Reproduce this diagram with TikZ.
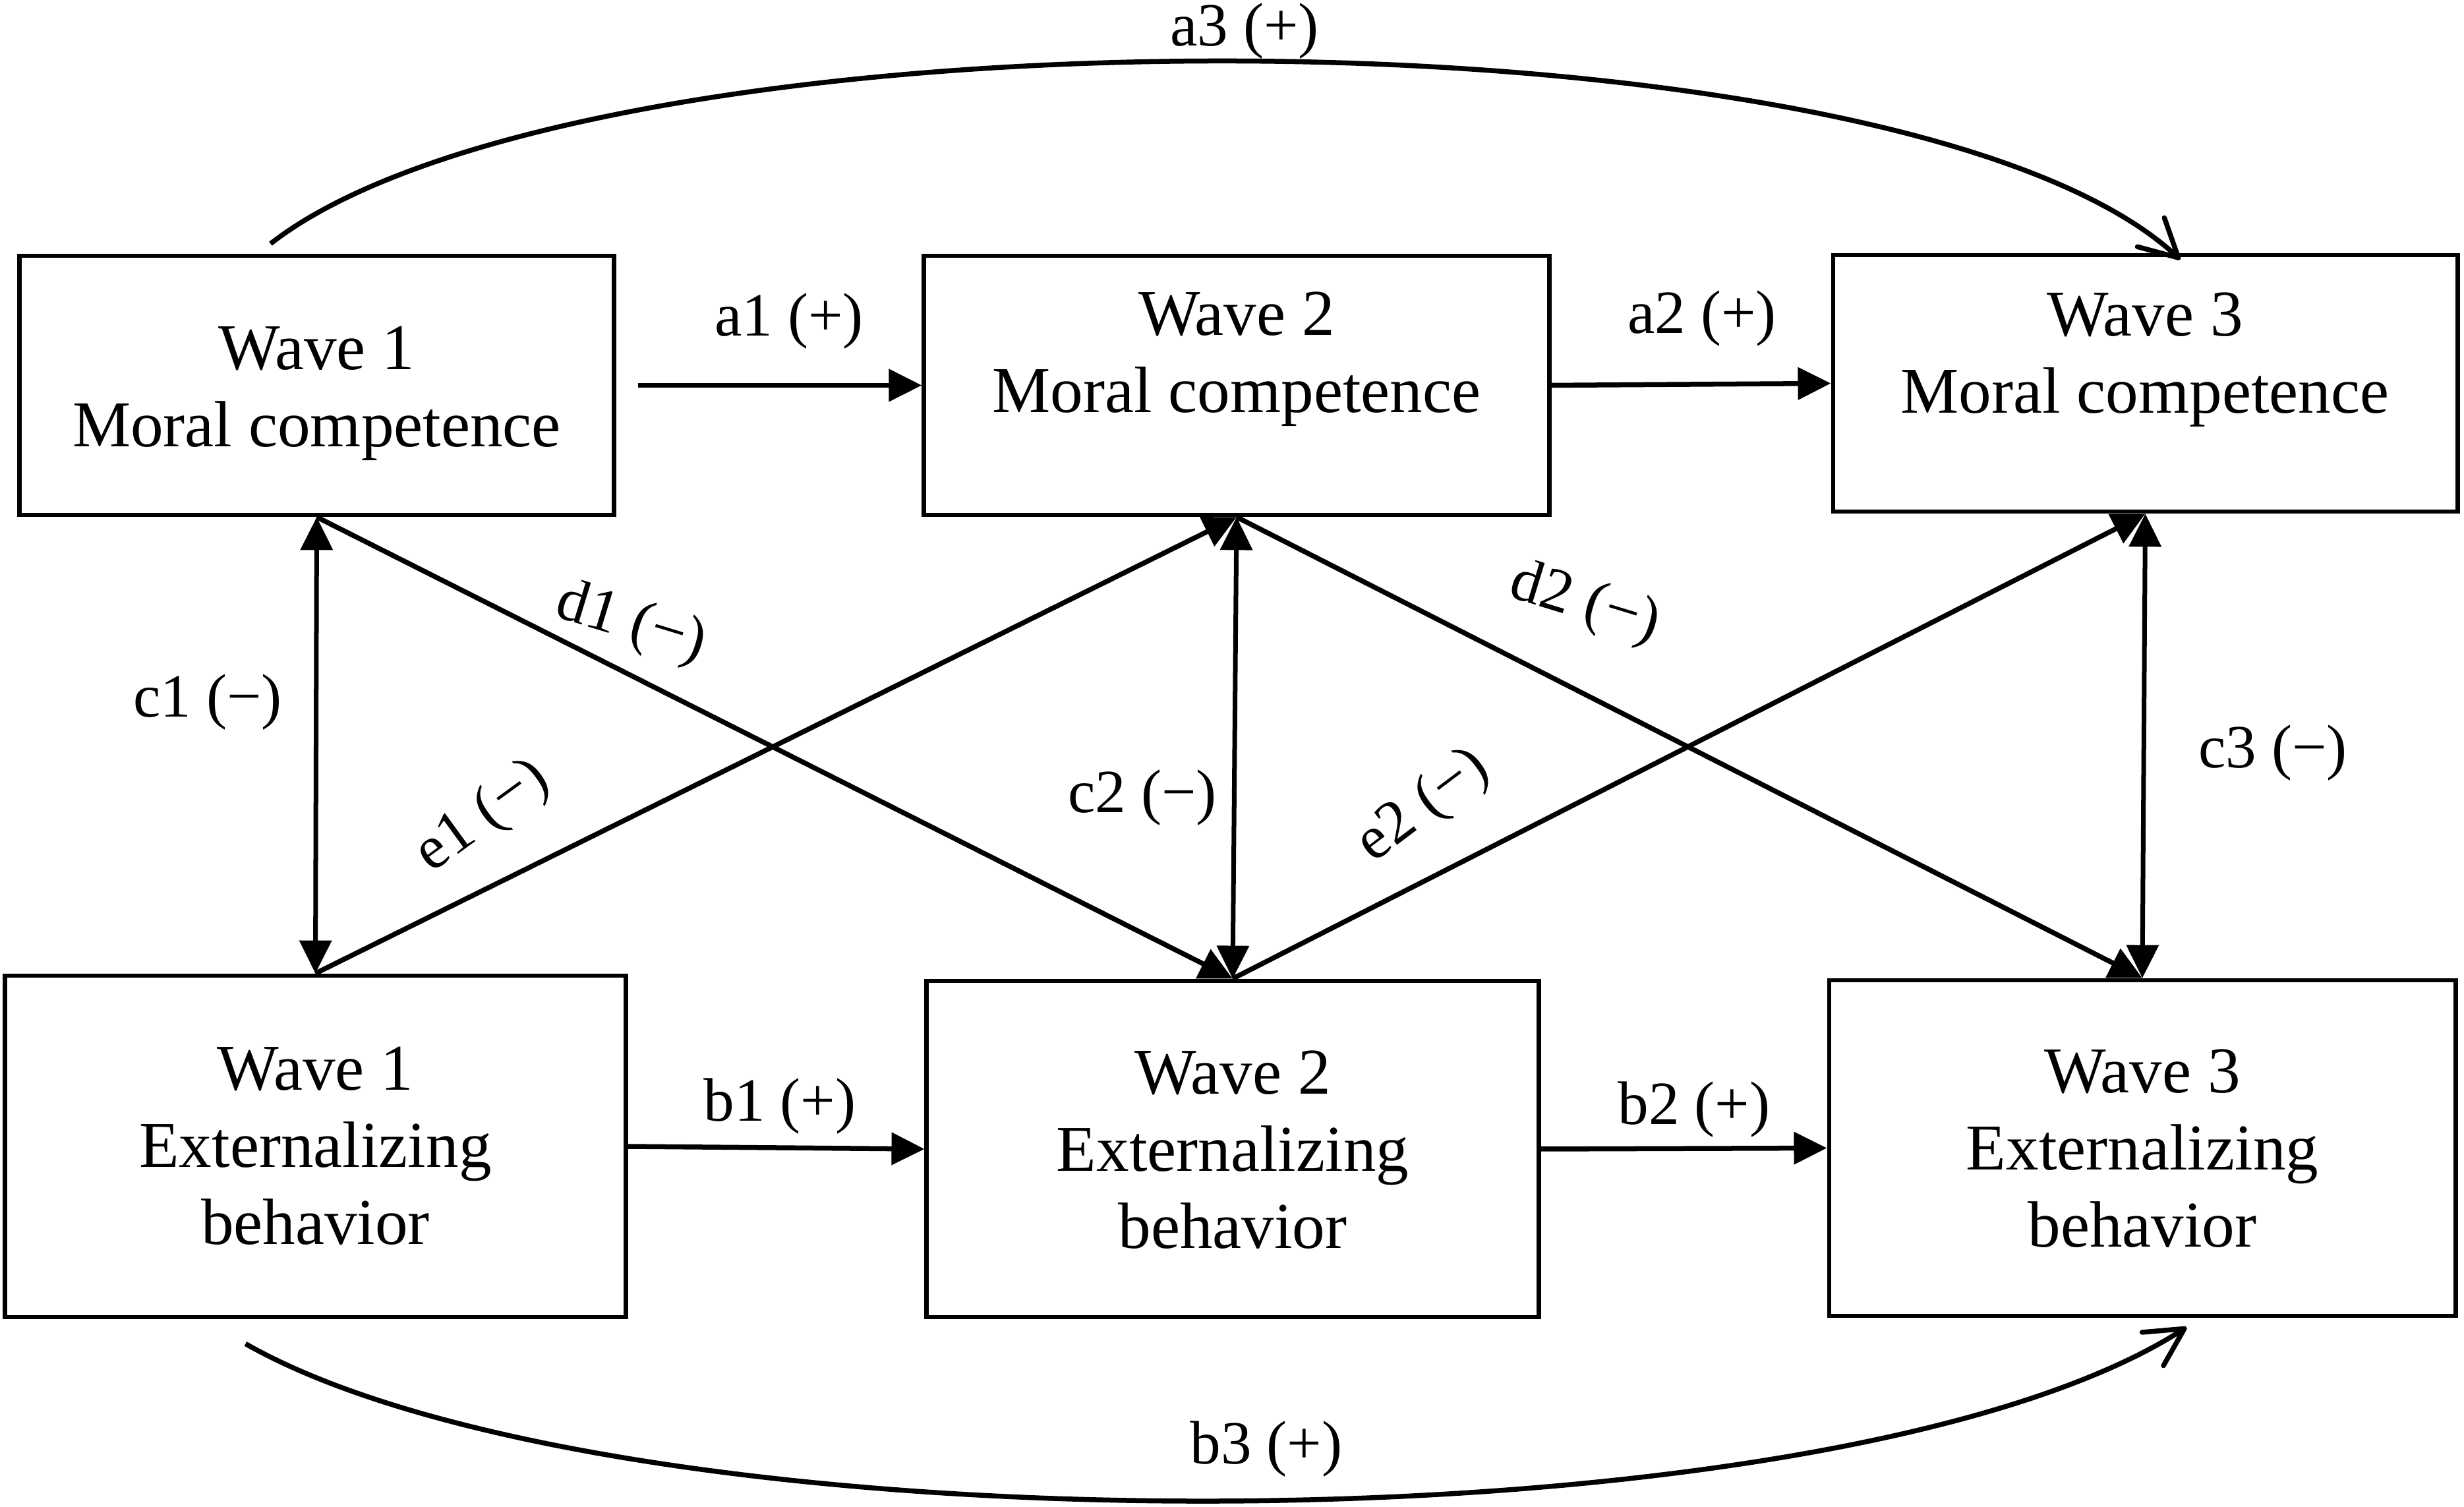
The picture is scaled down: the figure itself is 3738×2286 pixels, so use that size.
\documentclass[tikz,border=0pt]{standalone}
\usepackage{fontspec}
\setmainfont{Liberation Serif}
\usetikzlibrary{arrows.meta,calc}
\begin{document}
\begin{tikzpicture}[x=0.01cm,y=-0.01cm,
  box/.style={draw, line width=0.065cm, inner sep=0pt, rectangle},
  boxtext/.style={align=center, inner sep=0pt, font=\fontsize{28.2pt}{33.3pt}\selectfont},
  lbl/.style={inner sep=0pt, font=\fontsize{26.5pt}{30pt}\selectfont},
  conn/.style={line width=0.075cm, -{Triangle[length=0.5cm,width=0.48cm]}},
  biconn/.style={line width=0.07cm, {Triangle[length=0.5cm,width=0.48cm]}-{Triangle[length=0.5cm,width=0.48cm]}},
  curvedarrow/.style={line width=0.075cm, -{Straight Barb[length=0.57cm,width=0.6cm,round]}}
]
\path[fill=white, use as bounding box] (0,0) rectangle (3738,2286);

% boxes
\node[box, minimum width=9.01cm, minimum height=3.93cm] (m1) at (480.5,584.5) {};
\node[box, minimum width=9.48cm, minimum height=3.93cm] (m2) at (1876,584.5) {};
\node[box, minimum width=9.47cm, minimum height=3.89cm] (m3) at (3254.5,581.5) {};
\node[box, minimum width=9.41cm, minimum height=5.18cm] (x1) at (478.5,1739) {};
\node[box, minimum width=9.28cm, minimum height=5.10cm] (x2) at (1870,1743) {};
\node[box, minimum width=9.50cm, minimum height=5.09cm] (x3) at (3250,1741.5) {};

% box texts
\node[boxtext] (m1t) at (480.5,597) {Wave 1\\Moral competence};
\node[boxtext] (m2t) at (1876,545) {Wave 2\\Moral competence};
\node[boxtext] (m3t) at (3254,546) {Wave 3\\Moral competence};
\node[boxtext] (x1t) at (478.5,1738) {Wave 1\\Externalizing\\behavior};
\node[boxtext] (x2t) at (1870,1744) {Wave 2\\Externalizing\\behavior};
\node[boxtext] (x3t) at (3250,1742.5) {Wave 3\\Externalizing\\behavior};

% horizontal paths
\draw[conn] ([xshift=0.33cm]m1.east) -- (m2.west);
\draw[conn] (m2.east) -- (m3.west);
\draw[conn] (x1.east) -- (x2.west);
\draw[conn] (x2.east) -- (x3.west);

% vertical correlations
\draw[biconn] (m1.south) -- (x1.north);
\draw[biconn] (m2.south) -- (x2.north);
\draw[biconn] (m3.south) -- (x3.north);

% cross-lagged
\draw[conn] (m1.south) -- (x2.north);
\draw[conn] (x1.north) -- (m2.south);
\draw[conn] (m2.south) -- (x3.north);
\draw[conn] (x2.north) -- (m3.south);

% long curved paths
\coordinate (a3s) at ($(m1.north)+(-70,-15)$);
\coordinate (a3e) at ($(m3.north)+(53,10)$);
\draw[curvedarrow] (a3s) .. controls (888,-3) and (2880,-3) .. (a3e);
\coordinate (b3s) at ($(x1.south)+(-106,37)$);
\coordinate (b3e) at ($(x3.south)+(67,14)$);
\draw[curvedarrow] (b3s) .. controls (937,2360) and (2777,2360) .. (b3e);

% labels
\node[lbl] (la3) at (1888,47) {a3 (+)};
\node[lbl] (la1) at (1197,487) {a1 (+)};
\node[lbl] (la2) at (2582,483) {a2 (+)};
\node[lbl] (lb1) at (1183,1678) {b1 (+)};
\node[lbl] (lb2) at (2570,1683) {b2 (+)};
\node[lbl] (lb3) at (1921,2198) {b3 (+)};
\node[lbl] (lc1) at (315,1065) {c1 (−)};
\node[lbl] (lc2) at (1733,1210) {c2 (−)};
\node[lbl] (lc3) at (3448,1142) {c3 (−)};
\node[lbl, rotate=-17] (ld1) at (957,947) {d1 (−)};
\node[lbl, rotate=36] (le1) at (733,1240) {e1 (−)};
\node[lbl, rotate=-17] (ld2) at (2404,917) {d2 (−)};
\node[lbl, rotate=37] (le2) at (2160,1224) {e2 (−)};
\end{tikzpicture}
\end{document}
